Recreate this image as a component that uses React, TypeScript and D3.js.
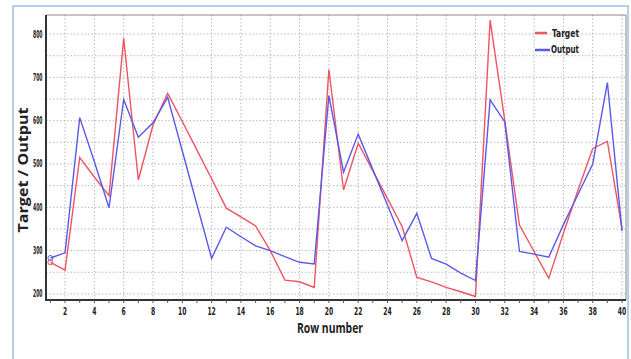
import React from 'react';
import * as d3 from 'd3';

// row numbers on the x axis
const rows = [1, 2, 3, 4, 5, 6, 7, 8, 9, 10, 11, 12, 13, 14, 15, 16, 17, 18, 19, 20,
  21, 22, 23, 24, 25, 26, 27, 28, 29, 30, 31, 32, 33, 34, 35, 36, 37, 38, 39, 40];

// values
const target = [273, 255, 515, 470, 427, 790, 463, 590, 663, 598, 532, 466, 398, 378, 357, 300, 232, 228, 215, 718,
  440, 548, 484, 420, 355, 238, 228, 215, 205, 194, 832, 600, 359, 298, 236, 340, 440, 536, 552, 350];
const output = [283, 295, 607, 505, 399, 649, 562, 595, 654, 530, 406, 282, 354, 332, 311, 300, 286, 273, 269, 658,
  481, 569, 487, 405, 323, 386, 282, 269, 248, 231, 648, 597, 298, 292, 285, 360, 430, 500, 688, 345];

const xTicks = [2, 4, 6, 8, 10, 12, 14, 16, 18, 20, 22, 24, 26, 28, 30, 32, 34, 36, 38, 40];
const yTicks = [200, 300, 400, 500, 600, 700, 800];
const yGrid = [200, 250, 300, 350, 400, 450, 500, 550, 600, 650, 700, 750, 800];

const App = () => {
  const width = 631;
  const height = 359;
  const left = 46, right = 626, top = 15, bottom = 300;

  // scales
  const x = d3.scaleLinear().domain([0.7, 40.27]).range([left, right]);
  const y = d3.scaleLinear().domain([186, 844]).range([bottom, top]);

  const line = d3.line<number>()
    .x((d, i) => x(rows[i]))
    .y(d => y(d));

  const red = '#ef5462';
  const blue = '#5a5aea';
  const tickFont = '"DejaVu Sans Condensed", "Liberation Sans", Arial, sans-serif';
  const titleFont = '"Open Sans", Lato, sans-serif';

  return (
    <svg width={width} height={height} style={{ position: 'absolute', left: 0, top: 0, background: '#fff' }}>
      {/* outer frame */}
      <rect x={13} y={6} width={615} height={356} fill="#fff" stroke="#9cc0e6" strokeWidth={1.5} />

      {/* grid */}
      {yGrid.map(v => (
        <line key={'gy' + v} x1={left} x2={right} y1={y(v)} y2={y(v)}
          stroke="#b8b8b8" strokeWidth={1} strokeDasharray="1.5,2" />
      ))}
      {xTicks.map(v => (
        <line key={'gx' + v} x1={x(v)} x2={x(v)} y1={top} y2={bottom}
          stroke="#b8b8b8" strokeWidth={1} strokeDasharray="1.5,2" />
      ))}

      {/* plot border */}
      <line x1={left} x2={right} y1={top} y2={top} stroke="#888" strokeWidth={1} />
      <line x1={right} x2={right} y1={top} y2={bottom} stroke="#888" strokeWidth={1} />
      <line x1={left} x2={left} y1={top} y2={bottom + 1} stroke="#333" strokeWidth={2} />
      <line x1={left - 1} x2={right} y1={bottom} y2={bottom} stroke="#333" strokeWidth={2} />
      {rows.map(v => (
        <line key={'tk' + v} x1={x(v)} x2={x(v)} y1={bottom} y2={bottom + 3} stroke="#555" strokeWidth={1} />
      ))}

      {/* series */}
      <path d={line(target) || ''} fill="none" stroke={red} strokeWidth={1.4} />
      <path d={line(output) || ''} fill="none" stroke={blue} strokeWidth={1.4} />
      <circle cx={x(rows[0])} cy={y(target[0])} r={2.5} fill="none" stroke={red} strokeWidth={1} />
      <circle cx={x(rows[0])} cy={y(output[0])} r={2.5} fill="none" stroke={blue} strokeWidth={1} />

      {/* y tick labels */}
      {yTicks.map(v => (
        <text key={'yt' + v} x={42.5} y={y(v)} dy="0.35em" textAnchor="end"
          textLength={9.5} lengthAdjust="spacingAndGlyphs"
          fontFamily={tickFont} fontSize={10} fontWeight="bold" fill="#222">{v}</text>
      ))}
      {/* x tick labels */}
      {xTicks.map(v => (
        <text key={'xt' + v} x={x(v)} y={314.5} textAnchor="middle"
          textLength={String(v).length * 4.2} lengthAdjust="spacingAndGlyphs"
          fontFamily={tickFont} fontSize={10.5} fontWeight="bold" fill="#222">{v}</text>
      ))}

      {/* axis titles */}
      <text x={330} y={333} textAnchor="middle" fontFamily={titleFont}
        textLength={66} lengthAdjust="spacingAndGlyphs"
        fontSize={14} fontWeight="bold" fill="#222">Row number</text>
      <text transform="translate(28,170) rotate(-90)" textAnchor="middle"
        textLength={125} lengthAdjust="spacingAndGlyphs"
        fontFamily={titleFont} fontSize={14} fontWeight="bold" fill="#222">Target / Output</text>

      {/* legend */}
      <line x1={535} x2={547} y1={33} y2={33} stroke={red} strokeWidth={2.5} />
      <text x={552} y={33} dy="0.35em" textLength={27} lengthAdjust="spacingAndGlyphs"
        fontFamily={tickFont} fontSize={11} fontWeight="bold" fill="#222">Target</text>
      <line x1={535} x2={550} y1={50} y2={50} stroke={blue} strokeWidth={2.5} />
      <text x={551} y={49} dy="0.35em" textLength={28} lengthAdjust="spacingAndGlyphs"
        fontFamily={tickFont} fontSize={11} fontWeight="bold" fill="#222">Output</text>
    </svg>
  );
};

export default App;
